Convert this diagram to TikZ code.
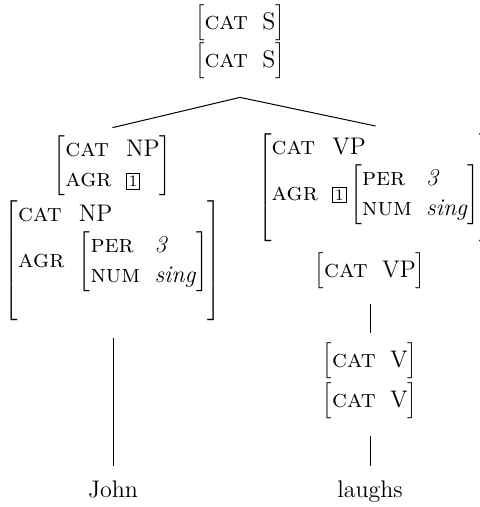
\documentclass[tikz,border=0pt]{standalone}
\usepackage{array}
\newcommand{\fs}[1]{{\fontsize{12.6}{14.5}\selectfont\textsc{#1}}}
\newcommand{\tagbox}[1]{{\setlength{\fboxsep}{1pt}\setlength{\fboxrule}{0.4pt}\fbox{\footnotesize #1}}}
\newcommand{\avm}[1]{$\left[\renewcommand{\arraystretch}{1.05}\begin{tabular}{@{}l@{\hspace{0.6em}}l@{}}#1\end{tabular}\right]$}
\tikzset{
  fnode/.style={inner sep=0pt, font=\fontsize{12}{14.5}\selectfont},
  edge/.style={line width=0.5pt}
}
\begin{document}
\begin{tikzpicture}[x=0.5pt,y=-0.5pt]
\useasboundingbox (0,0) rectangle (479,507);
\node[fnode] (s1) at (240,23) {\avm{\fs{cat} & S}};
\node[fnode] (s2) at (240,61) {\avm{\fs{cat} & S}};
\node[fnode] (np1) at (112.5,165.5) {\avm{\fs{cat} & NP\\ \fs{agr} & \tagbox{1}}};
\node[fnode, anchor=north] (np2) at (113,200) {\avm{\fs{cat} & NP\\ \fs{agr} & \avm{\fs{per} & \textit{3}\\ \fs{num} & \textit{sing}}\\[-1pt] & }};
\node[fnode, anchor=north west] (vp1) at (258,133) {\avm{\fs{cat} & VP\\ \fs{agr} & \tagbox{1}\,\avm{\fs{per} & \textit{3}\\ \fs{num} & \textit{sing}}\\[-7pt] & }};
\node[fnode] (vp2) at (370,271) {\avm{\fs{cat} & VP}};
\node[fnode] (v1) at (370,361) {\avm{\fs{cat} & V}};
\node[fnode] (v2) at (370,401) {\avm{\fs{cat} & V}};
\node[fnode, anchor=base] (john) at (113,497) {John};
\node[fnode, anchor=base] (laughs) at (370,497) {laughs};
\coordinate (root) at ([yshift=-9pt]s2.south);
\draw[edge] (root) -- ([yshift=3.5pt]np1.north);
\draw[edge] (root) -- ([yshift=3.5pt]vp1.north);
\draw[edge] ([yshift=-8.5pt]np2.south) -- ([yshift=7pt]john.north);
\draw[edge] ([yshift=-7.5pt]vp2.south) -- ([yshift=5pt]v1.north);
\draw[edge] ([yshift=-8.5pt]v2.south) -- ([yshift=7pt]laughs.north);
\end{tikzpicture}
\end{document}
